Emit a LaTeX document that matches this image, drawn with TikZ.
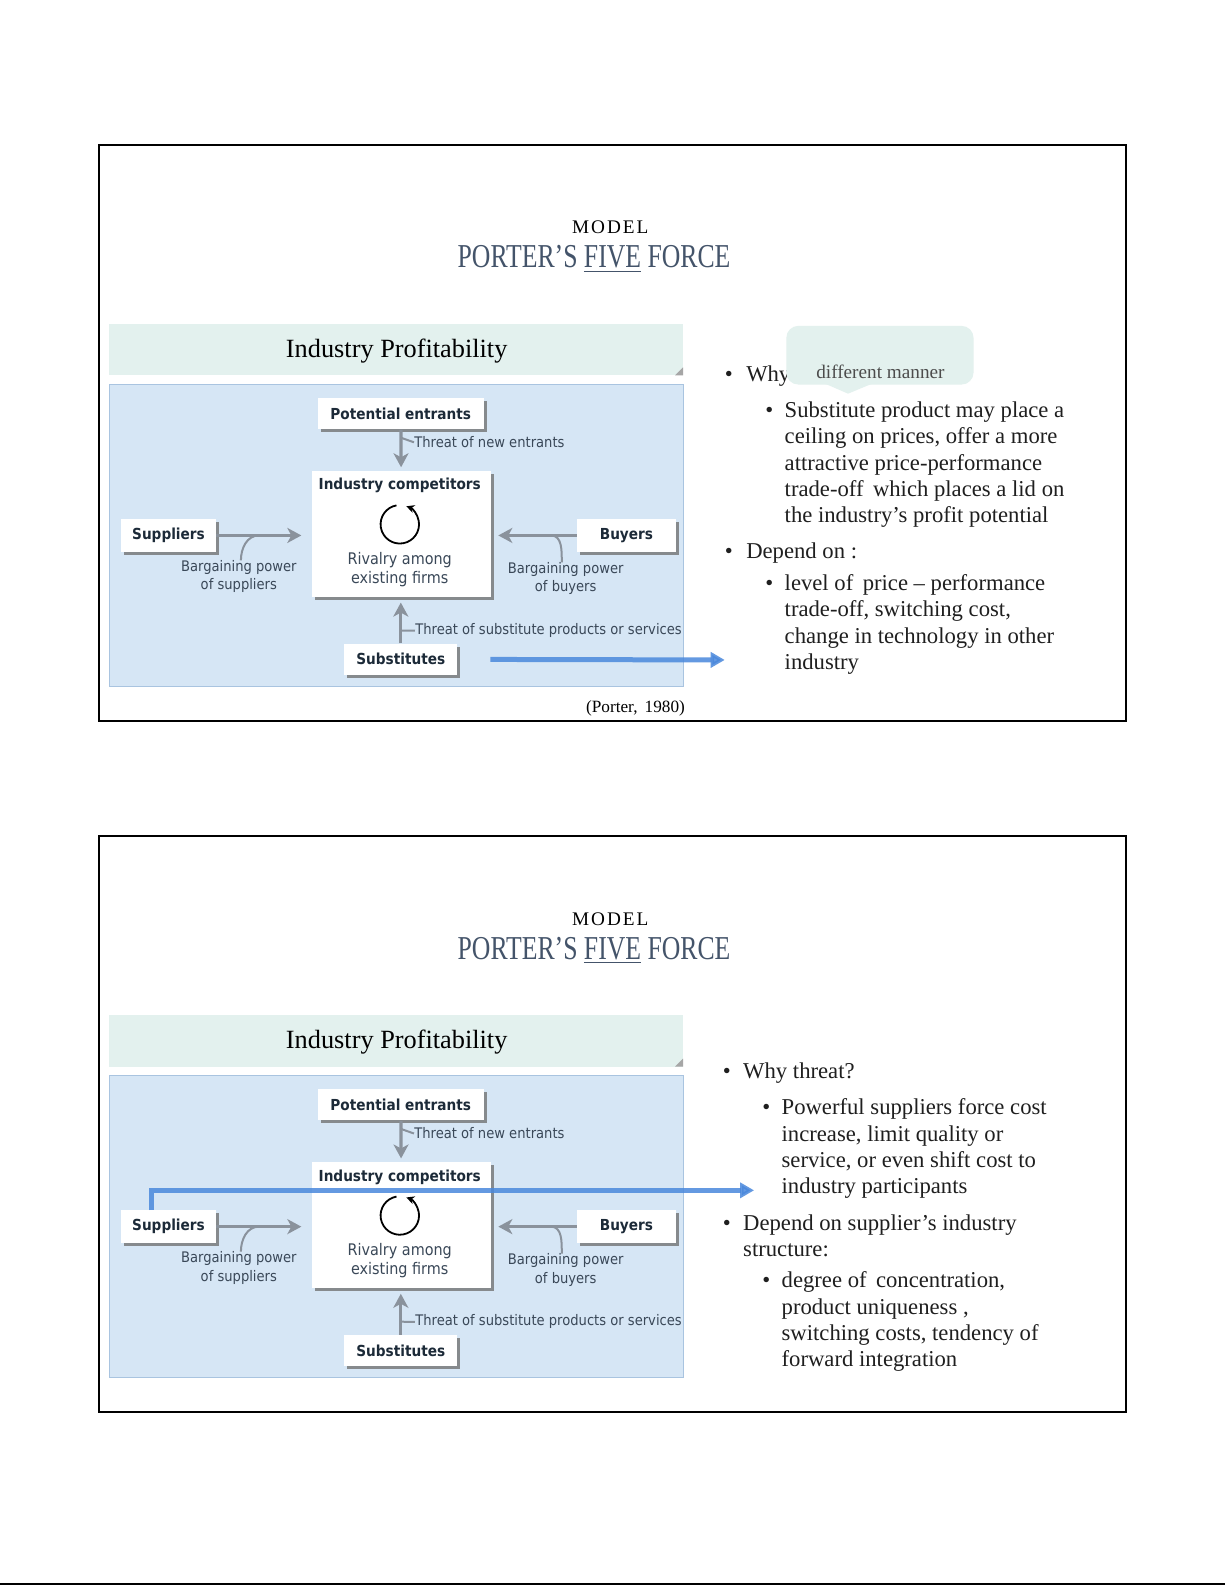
\documentclass[tikz,border=0pt]{standalone}
\usepackage{fontspec}
\setmainfont{Liberation Serif}
\newfontfamily\diagfont{DejaVu Sans}[FakeStretch=0.9]
\newfontfamily\titlefont{Liberation Serif}[FakeStretch=0.77]
\newfontfamily\modelfont{Liberation Serif}[LetterSpace=10]
\usetikzlibrary{arrows.meta, positioning, shadows, calc}
\definecolor{slateblue}{HTML}{44546A}
\definecolor{headfill}{HTML}{E3F1EE}
\definecolor{panelfill}{HTML}{D6E6F5}
\definecolor{panelline}{HTML}{A9C4E0}
\definecolor{arrowgray}{HTML}{8A929C}
\definecolor{diagtext}{HTML}{1C2A38}
\definecolor{labeltext}{HTML}{3A4858}
\definecolor{hlblue}{HTML}{4A88DC}

\tikzset{
  forcebox/.style={fill=white, inner sep=0pt, text=diagtext,
    font=\diagfont\bfseries\fontsize{7.5}{9}\selectfont,
    drop shadow={shadow xshift=1.5pt, shadow yshift=-1.5pt, fill=black!55, opacity=0.8}},
  forcelabel/.style={inner sep=0pt, text=labeltext, align=center,
    font=\diagfont\fontsize{7.2}{9}\selectfont},
  forcearrow/.style={draw=arrowgray, line width=1.6pt,
    -{Stealth[length=7pt, width=7.5pt, inset=2pt]}},
  ticklink/.style={draw=arrowgray, line width=1pt},
  hlarrow/.style={draw=hlblue, line width=2.5pt, opacity=0.85,
    -{Triangle[length=7pt, width=7.5pt]}},
  bodytext/.style={anchor=north west, inner sep=0pt, align=left, text=black!88,
    font=\fontsize{11.2}{13}\selectfont},
}

\begin{document}
\begin{tikzpicture}[x=0.5pt, y=-0.5pt]
\fill[white] (0,0) rectangle (1225,1585);
\useasboundingbox (0,0) rectangle (1225,1585);
\draw[line width=1pt] (0,1584) -- (1225,1584);

\begin{scope}[scale=1.012, transform shape]
% both slides share the frame, the title and the five forces diagram
\foreach \s/\dy in {a/0, b/683} {
\begin{scope}[shift={(0,\dy)}]
% frame and title
\draw[line width=1pt] (98,143) rectangle (1113,712);
\node[font=\modelfont\fontsize{9.5}{11}\selectfont] (\s-model) at (603,225) {MODEL};
\node[font=\titlefont\fontsize{16.5}{19}\selectfont, text=slateblue] (\s-title) at (587,256) {PORTER’S \underline{FIVE} FORCE};

% header bar
\fill[headfill] (108,320) rectangle (675,371);
\fill[black!35] (675,363) -- (675,371) -- (667,371) -- cycle;
\node[font=\fontsize{13}{15}\selectfont] (\s-head) at (392,347) {Industry Profitability};

% diagram panel
\draw[panelline, fill=panelfill] (108,380) rectangle (675,678);
\node[forcebox, minimum width=82pt, minimum height=15.5pt] (\s-pe) at (396,408.5) {Potential entrants};
\node[forcebox, minimum width=88.5pt, minimum height=62.5pt] (\s-comp) at (396.5,527.5) {};
\node[forcebox, minimum width=46.5pt, minimum height=16pt] (\s-supp) at (166.5,529) {Suppliers};
\node[forcebox, minimum width=49pt, minimum height=16pt] (\s-buy) at (619,529) {Buyers};
\node[forcebox, minimum width=56pt, minimum height=15.5pt] (\s-sub) at (396,651.5) {Substitutes};

\node[inner sep=0pt, text=diagtext, font=\diagfont\bfseries\fontsize{7.5}{9}\selectfont] (\s-comptitle) at (395,480) {Industry competitors};
\coordinate (\s-cyc) at (395,518);
\draw[line width=0.9pt, -{Stealth[length=4pt, width=4pt]}] ($(\s-cyc)+(100:9.5pt)$) arc[start angle=100, end angle=430, radius=9.5pt];
\node[forcelabel, font=\diagfont\fontsize{7.9}{9.5}\selectfont] (\s-rivalry) at (395,563) {Rivalry among\\existing firms};

% forces
\draw[forcearrow, shorten >=1.5pt] (\s-pe) -- (\s-comp);
\draw[forcearrow, shorten >=5pt] (\s-supp.east) -- (\s-supp.east -| \s-comp.west);
\draw[forcearrow, shorten >=3.5pt] (\s-buy.west) -- (\s-buy.west -| \s-comp.east);
\draw[forcearrow, shorten >=2.5pt] (\s-sub.north) -- (\s-sub.north |- \s-comp.south);

% labels
\node[forcelabel, anchor=west] (\s-lnew) at (409,437) {Threat of new entrants};
\node[forcelabel] (\s-lsupp) at (236,570) {Bargaining power\\of suppliers};
\node[forcelabel] (\s-lbuy) at (559,572) {Bargaining power\\of buyers};
\node[forcelabel, anchor=west] (\s-lsub) at (410,623) {Threat of substitute products or services};
\draw[ticklink] ($(\s-pe.south)!0.2!(\s-comp.north)$) -- (\s-lnew.west);
\draw[ticklink] ([xshift=1pt]\s-lsupp.north) to[out=90, in=180] ($(\s-supp.east)!0.45!(\s-supp.east -| \s-comp.west)$);
\draw[ticklink] ([xshift=-2pt]\s-lbuy.north) to[out=90, in=0] ($(\s-buy.west)!0.3!(\s-buy.west -| \s-comp.east)$);
\draw[ticklink] ($(\s-sub.north)!0.28!(\s-sub.north |- \s-comp.south)$) -- (\s-lsub.west);
\end{scope}
}

% Slide 1: substitutes
\coordinate (a-hlend) at (716,652);
\draw[hlarrow] ([xshift=16pt]a-sub.east) -- (a-hlend);
\node[bodytext] (a-dot1) at (716,358) {\strut•};
\node[bodytext] (a-why) at (737,358) {\strut Why};
\fill[headfill, rounded corners=6pt] (777,322) rectangle (962,380);
\fill[headfill] (815,379) -- (838,389) -- (862,379) -- cycle;
\node[inner sep=0pt, text=black!70, font=\fontsize{9.5}{11}\selectfont] (a-manner) at (870,367) {different manner};
\node[bodytext] (a-dot2) at (756,394) {\strut•};
\node[bodytext] (a-subst) at (775,394) {\strut Substitute product may place a\\ceiling on prices, offer a more\\attractive price-performance\\trade-off\, which places a lid on\\the industry’s profit potential};
\node[bodytext] (a-dot3) at (716,533) {\strut•};
\node[bodytext] (a-dep) at (737,533) {\strut Depend on :};
\node[bodytext] (a-dot4) at (756,565) {\strut•};
\node[bodytext] (a-level) at (775,565) {\strut level of\, price -- performance\\trade-off, switching cost,\\change in technology in other\\industry};
\node[font=\fontsize{8.5}{10}\selectfont] (a-cite) at (628,700) {(Porter,\, 1980)};

% Slide 2: suppliers
\coordinate (b-hlend) at (745,1176);
\draw[hlarrow] ([xshift=-8.25pt]b-supp.north) |- (b-hlend);
\node[bodytext] (b-dot1) at (714,1047) {\strut•};
\node[bodytext] (b-why) at (734,1047) {\strut Why threat?};
\node[bodytext] (b-dot2) at (753,1083) {\strut•};
\node[bodytext] (b-power) at (772,1083) {\strut Powerful suppliers force cost\\increase, limit quality or\\service, or even shift cost to\\industry participants};
\node[bodytext] (b-dot3) at (714,1197) {\strut•};
\node[bodytext] (b-dep) at (734,1197) {\strut Depend on supplier’s industry\\structure:};
\node[bodytext] (b-dot4) at (753,1254) {\strut•};
\node[bodytext] (b-degree) at (772,1254) {\strut degree of\, concentration,\\product uniqueness ,\\switching costs, tendency of\\forward integration};
\end{scope}
\end{tikzpicture}
\end{document}
